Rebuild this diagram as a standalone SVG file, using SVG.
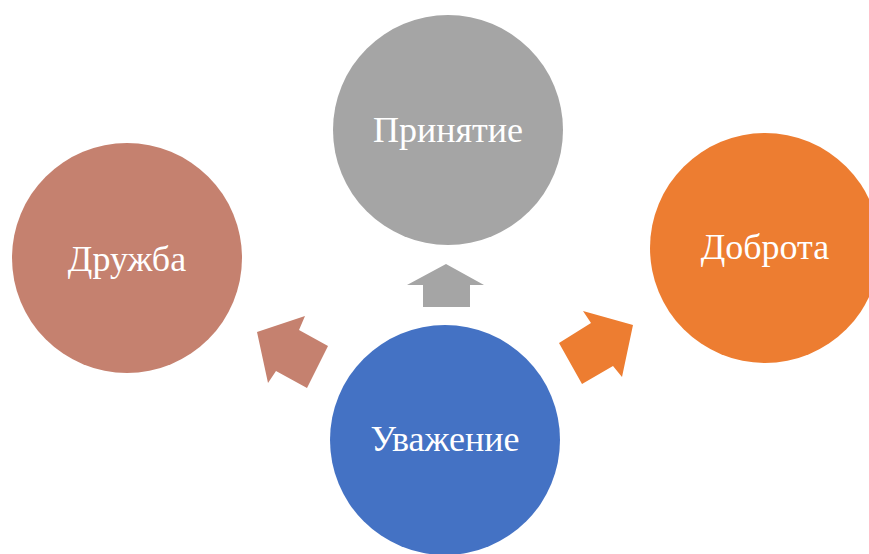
<svg xmlns="http://www.w3.org/2000/svg" width="869" height="554" viewBox="0 0 869 554">
<style>
.lbl{font-family:"Liberation Serif","Times New Roman",serif;font-size:36px;fill:#ffffff;text-anchor:middle}
</style>
<rect width="869" height="554" fill="#ffffff"/>
<g id="connectors">
<polygon fill="#A5A5A5" points="446,264 484,285 470,285 470,307 423,307 423,285 407,285"/>
<polygon fill="#C5816F" points="257,332 305,316 299,330 328,346 307,388 276,371 268,383"/>
<polygon fill="#ED7D31" points="633,325 622,377 613,366 582,384 559,343 591,323 583,311"/>
</g>
<g id="node-prinyatie">
<circle cx="448" cy="130" r="115" fill="#A5A5A5"/>
<text class="lbl" x="448" y="142">Принятие</text>
</g>
<g id="node-druzhba">
<circle cx="127" cy="258" r="115" fill="#C5816F"/>
<text class="lbl" x="127" y="271">Дружба</text>
</g>
<g id="node-dobrota">
<circle cx="765" cy="248" r="115" fill="#ED7D31"/>
<text class="lbl" x="765" y="259">Доброта</text>
</g>
<g id="node-uvazhenie">
<circle cx="445" cy="440" r="115" fill="#4472C4"/>
<text class="lbl" x="445" y="451">Уважение</text>
</g>
</svg>
